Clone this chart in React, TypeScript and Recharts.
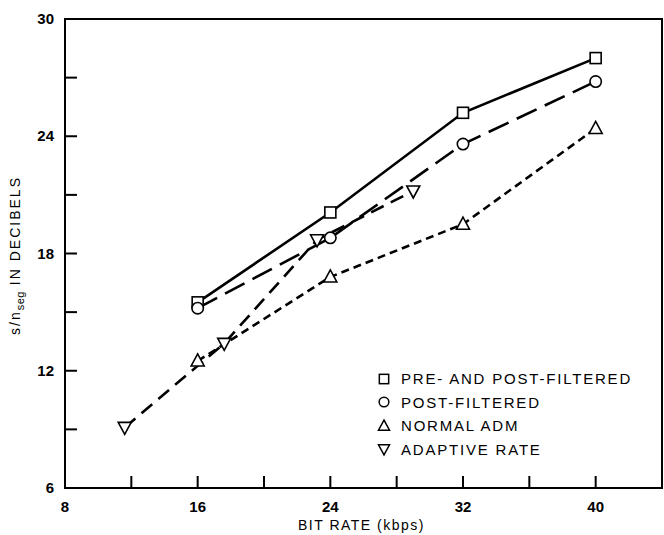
import React from 'react';
import { LineChart, Line, XAxis, YAxis, ReferenceArea, Legend } from 'recharts';

const xTicks = [8, 12, 16, 20, 24, 28, 32, 36, 40, 44];
const yTicks = [6, 9, 12, 15, 18, 21, 24, 27, 30];

const bitRates = [16, 24, 32, 40];
const preAndPostFiltered = [15.5, 20.1, 25.2, 28.0];
const postFiltered = [15.2, 18.8, 23.6, 26.8];
const normalAdm = [12.5, 16.8, 19.5, 24.4];

const adaptiveBitRates = [11.6, 17.6, 23.2, 29.0];
const adaptiveRate = [9.1, 13.4, 18.7, 21.2];

const FONT = '"Liberation Sans", Arial, Helvetica, sans-serif';

type Shape = 'square' | 'circle' | 'up' | 'down';

const toPoints = (xs: number[], ys: number[]) => xs.map((rate, i) => ({ rate, snr: ys[i] }));

const series = [
  { name: 'PRE- AND POST-FILTERED', shape: 'square' as Shape, dash: undefined, data: toPoints(bitRates, preAndPostFiltered) },
  { name: 'POST-FILTERED', shape: 'circle' as Shape, dash: '22 9', data: toPoints(bitRates, postFiltered) },
  { name: 'NORMAL ADM', shape: 'up' as Shape, dash: '8 5', data: toPoints(bitRates, normalAdm) },
  { name: 'ADAPTIVE RATE', shape: 'down' as Shape, dash: '14 8', data: toPoints(adaptiveBitRates, adaptiveRate) },
];

function Marker({ shape, cx, cy, s = 1, sw = 1.6 }: { shape: Shape; cx: number; cy: number; s?: number; sw?: number }) {
  const p = { fill: '#fff', stroke: '#000', strokeWidth: sw };
  if (shape === 'square') return <rect x={cx - 5.5 * s} y={cy - 5.5 * s} width={11 * s} height={11 * s} {...p} />;
  if (shape === 'circle') return <circle cx={cx} cy={cy} r={5.7 * s} {...p} />;
  if (shape === 'up')
    return <polygon points={`${cx},${cy - 7 * s} ${cx - 6.5 * s},${cy + 5 * s} ${cx + 6.5 * s},${cy + 5 * s}`} {...p} />;
  return <polygon points={`${cx - 6.5 * s},${cy - 5 * s} ${cx + 6.5 * s},${cy - 5 * s} ${cx},${cy + 7 * s}`} {...p} />;
}

const XTick = (props: any) => {
  const { x, y, payload } = props;
  const v = payload.value;
  return (
    <g>
      {v !== 8 && v !== 44 && <line x1={x} y1={y} x2={x} y2={y - 12} stroke="#000" strokeWidth={2} />}
      {v % 8 === 0 && v <= 40 && (
        <text x={x} y={y + 24} textAnchor="middle" fontFamily={FONT} fontSize={15} fontWeight="bold" fill="#000">
          {v}
        </text>
      )}
    </g>
  );
};

const YTick = (props: any) => {
  const { x, y, payload } = props;
  const v = payload.value;
  return (
    <g>
      {v !== 6 && v !== 30 && <line x1={x} y1={y} x2={x + 12} y2={y} stroke="#000" strokeWidth={2} />}
      {v % 6 === 0 && (
        <text x={x - 11} y={y + 5} textAnchor="end" fontFamily={FONT} fontSize={15} fontWeight="bold" fill="#000">
          {v}
        </text>
      )}
    </g>
  );
};

const renderYLabel = (props: any) => {
  const { viewBox } = props;
  const cx = 20;
  const cy = viewBox.y + viewBox.height / 2 + 2;
  return (
    <text
      x={cx}
      y={cy}
      transform={`rotate(-90, ${cx}, ${cy})`}
      textAnchor="middle"
      fontFamily={FONT}
      fontSize={14}
      letterSpacing={2}
      fill="#000"
    >
      s/n
      <tspan dy={4} fontSize={11} letterSpacing={0.5}>seg</tspan>
      <tspan dy={-4}> IN DECIBELS</tspan>
    </text>
  );
};

const renderXLabel = (props: any) => {
  const { viewBox } = props;
  return (
    <text
      x={viewBox.x + viewBox.width / 2 - 2}
      y={530}
      textAnchor="middle"
      fontFamily={FONT}
      fontSize={14}
      letterSpacing={1.5}
      fill="#000"
    >
      BIT RATE (kbps)
    </text>
  );
};

const renderLegend = () => (
  <div style={{ fontFamily: FONT, fontSize: 15, letterSpacing: 1.8, color: '#000' }}>
    {series.map((s) => (
      <div key={s.name} style={{ display: 'flex', alignItems: 'center', height: 23.5, whiteSpace: 'nowrap' }}>
        <svg width={16} height={16} style={{ marginRight: 9 }}>
          <Marker shape={s.shape} cx={8} cy={8} s={0.85} sw={1.5} />
        </svg>
        <span>{s.name}</span>
      </div>
    ))}
  </div>
);

export default function App() {
  return (
    <div style={{ position: 'absolute', left: 0, top: 0, width: 664, height: 535, background: '#fff' }}>
      <LineChart width={664} height={535} margin={{ top: 19, right: 2, bottom: 0, left: 0 }}>
        <XAxis
          type="number"
          dataKey="rate"
          domain={[8, 44]}
          ticks={xTicks}
          interval={0}
          allowDataOverflow
          height={47}
          tickLine={false}
          tickSize={0}
          tickMargin={0}
          axisLine={{ stroke: '#000', strokeWidth: 2 }}
          tick={<XTick />}
          label={{ content: renderXLabel }}
        />
        <YAxis
          type="number"
          dataKey="snr"
          domain={[6, 30]}
          ticks={yTicks}
          interval={0}
          allowDataOverflow
          width={65}
          tickLine={false}
          tickSize={0}
          tickMargin={0}
          axisLine={{ stroke: '#000', strokeWidth: 2 }}
          tick={<YTick />}
          label={{ content: renderYLabel }}
        />
        <ReferenceArea x1={8} x2={44} y1={6} y2={30} fill="none" stroke="#000" strokeWidth={2} />
        <Legend
          layout="vertical"
          align="center"
          verticalAlign="middle"
          content={renderLegend}
          wrapperStyle={{ left: 376, top: 367, width: 285 }}
        />
        {series.map((s) => (
          <Line
            key={s.name}
            data={s.data}
            dataKey="snr"
            name={s.name}
            stroke="#000"
            strokeWidth={2.6}
            strokeDasharray={s.dash}
            isAnimationActive={false}
            dot={(p: any) => <Marker key={`${s.name}-${p.index}`} shape={s.shape} cx={p.cx} cy={p.cy} />}
            activeDot={false}
          />
        ))}
      </LineChart>
    </div>
  );
}
